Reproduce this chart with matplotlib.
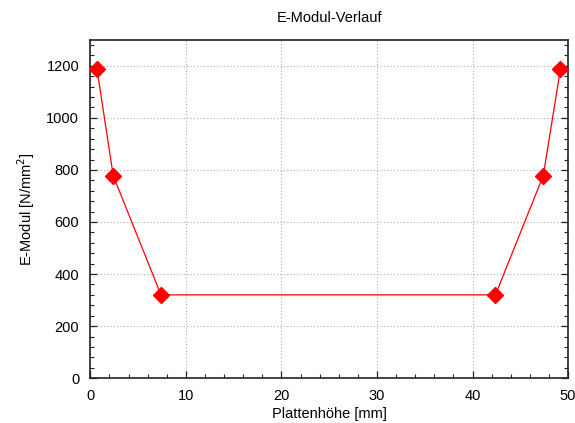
import matplotlib
matplotlib.use("Agg")
import matplotlib.pyplot as plt
from matplotlib.ticker import MultipleLocator

plt.rcParams['font.family'] = ['Liberation Sans', 'DejaVu Sans']

x_mm = [0.7, 2.4, 7.4, 42.4, 47.4, 49.2]
e_mod = [1188, 778, 320, 320, 778, 1188]

fig = plt.figure(figsize=(5.75, 4.23), dpi=100)
ax = fig.add_axes([0.157, 0.106, 0.831, 0.800])
ax.plot(x_mm, e_mod, color='#ff0000', lw=0.9, marker='D', ms=8.5,
        markeredgecolor='#ff0000', markerfacecolor='#ff0000', clip_on=False, zorder=3)
ax.set_xlim(0, 50)
ax.set_ylim(0, 1300)
ax.xaxis.set_major_locator(MultipleLocator(10))
ax.xaxis.set_minor_locator(MultipleLocator(2))
ax.yaxis.set_major_locator(MultipleLocator(200))
ax.yaxis.set_minor_locator(MultipleLocator(40))
ax.tick_params(which='both', direction='in', right=True, top=False, labelsize=10.5, color='#222222')
ax.tick_params(which='major', length=5, width=0.9)
ax.tick_params(axis='y', which='major', pad=8)
ax.tick_params(axis='x', which='major', pad=8)
ax.tick_params(which='minor', length=3, width=0.8)
ax.grid(True, which='major', linestyle=(0, (1, 2)), color='#aaaaaa', lw=0.8)
for s in ax.spines.values():
    s.set_linewidth(1.2)
    s.set_color('#222222')
ax.set_xlabel('Plattenhöhe [mm]', fontsize=10.5, labelpad=3)
ax.set_ylabel('E-Modul [N/mm$^2$]', fontsize=10.5, labelpad=7)
ax.set_title('E-Modul-Verlauf', fontsize=10.5, pad=13)
fig.savefig('out.png', dpi=100)
